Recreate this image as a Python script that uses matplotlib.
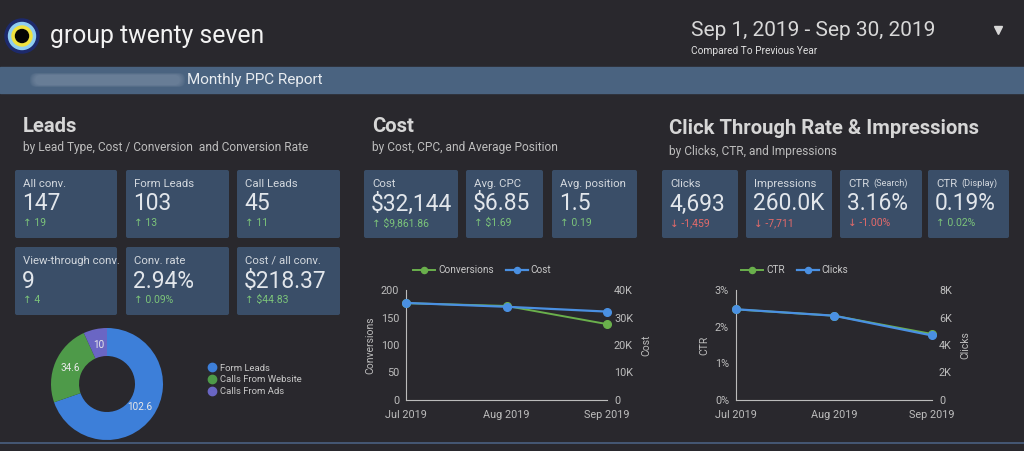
import matplotlib
matplotlib.use('Agg')
import matplotlib.pyplot as plt
from matplotlib.patches import FancyBboxPatch, Rectangle, Circle
from matplotlib.lines import Line2D

plt.rcParams['font.family'] = ['Roboto', 'DejaVu Sans']

W, H = 1024, 451
BG = '#29282d'
CARD = '#3a4e68'
BANNER = '#4a6380'
SUB = '#bdbdbd'
UP = '#7cc47a'
DOWN = '#e46a6a'

# KPI cards: (label, value, delta)
leads_cards = [('All conv.', '147', '19'), ('Form Leads', '103', '13'), ('Call Leads', '45', '11'),
               ('View-through conv.', '9', '4'), ('Conv. rate', '2.94%', '0.09%'),
               ('Cost / all conv.', '$218.37', '$44.83')]
cost_cards = [('Cost', '$32,144', '$9,861.86'), ('Avg. CPC', '$6.85', '$1.69'),
              ('Avg. position', '1.5', '0.19')]
ctr_cards = [('Clicks', '4,693', '-1,459'), ('Impressions', '260.0K', '-7,711'),
             ('CTR', '3.16%', '-1.00%'), ('CTR', '0.19%', '0.02%')]
ctr_sub = ['', '', '(Search)', '(Display)']

# donut
lead_types = ['Form Leads', 'Calls From Website', 'Calls From Ads']
lead_values = [102.6, 34.6, 10]
lead_colors = ['#3d7fd9', '#4e9a49', '#6a66c4']

# monthly trends
months = ['Jul 2019', 'Aug 2019', 'Sep 2019']
conversions = [176, 171, 138]
cost = [35300, 33900, 32144]
ctr = [2.47, 2.30, 1.80]
clicks = [6600, 6130, 4693]

fig = plt.figure(figsize=(W / 100, H / 100), dpi=100, facecolor=BG)
bg = fig.add_axes([0, 0, 1, 1])
bg.set_xlim(0, W)
bg.set_ylim(H, 0)
bg.axis('off')

# header
for r, c in [(17, '#1d2a6c'), (13.5, '#8fcdf2'), (10, '#f0e23e'), (6.5, '#050505')]:
    bg.add_patch(Circle((22, 36), r, color=c, zorder=2))
bg.text(50, 36, 'group twenty seven', color='#f2f2f2', fontsize=17.8, va='center', ha='left')
bg.text(691, 30, 'Sep 1, 2019 - Sep 30, 2019', color='#d8d8d8', fontsize=15, va='center')
bg.text(691, 51, 'Compared To Previous Year', color='#e0e0e0', fontsize=7.3, va='center')
bg.plot([998], [30], marker='v', color='#d8d8d8', markersize=6)

bg.add_patch(Rectangle((0, 67), W, 26, color=BANNER))
for i in range(6):
    bg.add_patch(FancyBboxPatch((30 + i, 73 + i * 0.4), 155 - 2 * i, 14 - i * 0.8,
                                boxstyle='round,pad=0,rounding_size=6', color='#8597ad',
                                alpha=0.12, lw=0))
bg.text(187, 80, 'Monthly PPC Report', color='#e8ecf0', fontsize=11, va='center')
bg.plot([0, W], [443, 443], color='#4a6080', lw=1.2)

# section titles
for x, y, t, s in [(23, 126, 'Leads', 'by Lead Type, Cost / Conversion  and Conversion Rate'),
                   (372, 126, 'Cost', 'by Cost, CPC, and Average Position'),
                   (669, 129, 'Click Through Rate & Impressions', 'by Clicks, CTR, and Impressions')]:
    bg.text(x, y, t, color='#d6d6d6', fontsize=14.6, fontweight='bold', va='center')
    bg.text(x, y + 22, s, color=SUB, fontsize=8.6, va='center')


def card(x0, x1, y0, label, value, delta, sub=''):
    bg.add_patch(FancyBboxPatch((x0, y0), x1 - x0, 68, boxstyle='round,pad=0,rounding_size=2',
                                color=CARD, lw=0))
    bg.text(x0 + 8, y0 + 14, label, color='#d3d8de', fontsize=8.2, va='center')
    if sub:
        bg.text(x0 + 8 + 25, y0 + 13, sub, color='#d3d8de', fontsize=6.6, va='center')
    bg.text(x0 + 7, y0 + 34, value, color='#e2e6eb', fontsize=16.4, va='center')
    neg = delta.startswith('-')
    arrow = '\u2193' if neg else '\u2191'
    bg.text(x0 + 8, y0 + 53, arrow + ' ' + delta, color=DOWN if neg else UP,
            fontsize=7.5, va='center')


lead_x = [(15, 117), (126, 229), (237, 340)]
for i, (lab, val, d) in enumerate(leads_cards):
    x0, x1 = lead_x[i % 3]
    card(x0, x1, 170 if i < 3 else 247, lab, val, d)

cost_x = [(364, 458), (466, 543), (552, 637)]
for (x0, x1), (lab, val, d) in zip(cost_x, cost_cards):
    card(x0, x1, 170, lab, val, d)

ctr_x = [(662, 738), (746, 832), (840, 922), (928, 1009)]
for (x0, x1), (lab, val, d), s in zip(ctr_x, ctr_cards, ctr_sub):
    card(x0, x1, 170, lab, val, d, s)

# donut chart
pax = fig.add_axes([51 / W, (H - 440) / H, 112 / W, 112 / H])
pax.pie(lead_values, colors=lead_colors, startangle=90, counterclock=False,
        labels=[f'{v:g}' for v in lead_values], labeldistance=0.72,
        wedgeprops=dict(width=0.5, linewidth=0),
        textprops=dict(color='#e8e8e8', fontsize=7.2, ha='center', va='center'))
pax.set_xlim(-1, 1)
pax.set_ylim(-1, 1)
handles = [Line2D([], [], marker='o', ls='', color=c, markersize=6) for c in lead_colors]
fig.legend(handles, lead_types, loc='center left', bbox_to_anchor=(198 / W, 1 - 380 / H),
           frameon=False, fontsize=6.8, labelcolor='#c8c8c8', handletextpad=0.2,
           labelspacing=0.3, handlelength=1.2)


def trend(x0, x1, left, right, lname, rname, lcol, rcol, lticks, llabels, rticks, rlabels, legx):
    ax = fig.add_axes([x0 / W, (H - 400) / H, (x1 - x0) / W, 110 / H])
    ax.set_facecolor('none')
    ax2 = ax.twinx()
    l2, = ax2.plot(range(len(months)), right, color=rcol, marker='o', markersize=5.5, lw=1.6, clip_on=False)
    l1, = ax.plot(range(len(months)), left, color=lcol, marker='o', markersize=5.5, lw=1.4, clip_on=False)
    for a, ticks, labs in [(ax, lticks, llabels), (ax2, rticks, rlabels)]:
        a.set_xlim(0, len(months) - 1)
        a.set_ylim(ticks[0], ticks[-1])
        a.set_yticks(ticks)
        a.set_yticklabels(labs)
        a.tick_params(colors=SUB, labelsize=7.8, length=0, pad=5)
        for s in a.spines.values():
            s.set_visible(False)
    for side in ['left', 'bottom']:
        ax.spines[side].set_visible(True)
        ax.spines[side].set_color('#bbbbbb')
    ax.set_xticks(range(len(months)))
    ax.set_xticklabels(months)
    ax.tick_params(axis='x', pad=7)
    ax.set_ylabel(lname, color=SUB, fontsize=7.5, labelpad=4)
    ax2.set_ylabel(rname, color=SUB, fontsize=7.5, labelpad=6)
    fig.legend([l1, l2], [lname, rname], loc='center left', bbox_to_anchor=(legx / W, 1 - 270 / H),
               ncol=2, frameon=False, fontsize=7.2, labelcolor='#c8c8c8', handlelength=2.2,
               handletextpad=0.3, columnspacing=1.2, markerscale=0.8)
    return ax, ax2


trend(406, 607, conversions, cost, 'Conversions', 'Cost', '#6ab04c', '#4a90e2',
      [0, 50, 100, 150, 200], ['0', '50', '100', '150', '200'],
      [0, 10000, 20000, 30000, 40000], ['0', '10K', '20K', '30K', '40K'], 404)
trend(736, 932, ctr, clicks, 'CTR', 'Clicks', '#6ab04c', '#4a90e2',
      [0, 1, 2, 3], ['0%', '1%', '2%', '3%'],
      [0, 2000, 4000, 6000, 8000], ['0', '2K', '4K', '6K', '8K'], 732)

fig.savefig('out.png', dpi=100, facecolor=BG)
